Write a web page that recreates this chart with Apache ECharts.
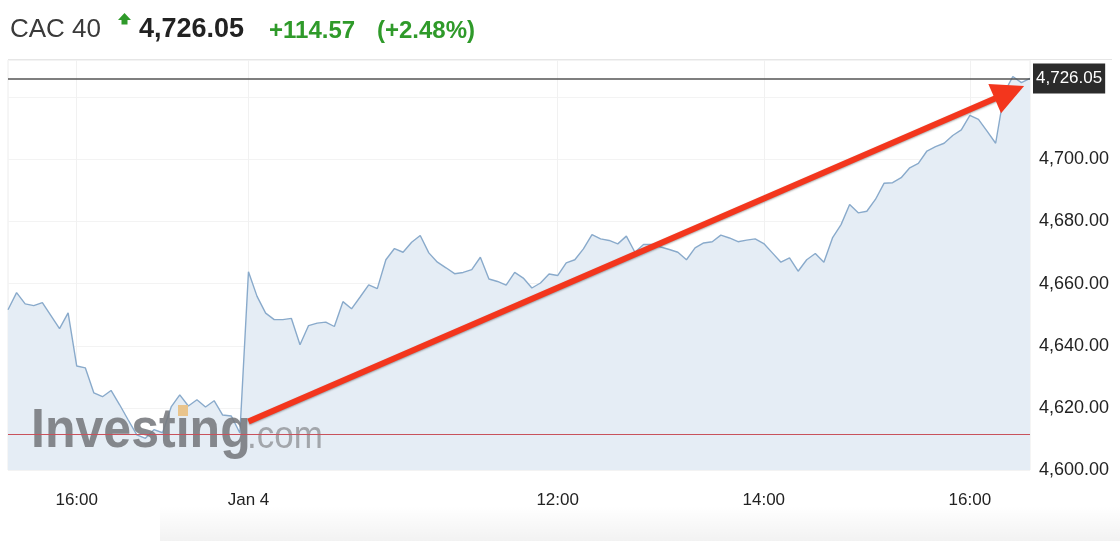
<!DOCTYPE html>
<html>
<head>
<meta charset="utf-8">
<script src="https://cdn.jsdelivr.net/npm/echarts@6/dist/echarts.min.js"></script>
<style>
html,body{margin:0;padding:0;background:#fff;}
#chart{width:1120px;height:541px;}
</style>
</head>
<body>
<div id="chart"></div>
<script>
// ---- header text ----
const indexName = 'CAC 40';
const lastPrice = 4726.05;
const prevClose = 4611.48;
const changeText = '+114.57';
const changePctText = '(+2.48%)';

// ---- session times (5-minute bars) ----
const prevDayLabel = 'Jan 3';
const prevDayStart = '15:20', prevDayEnd = '17:35';
const curDayLabel = 'Jan 4';
const curDayStart = '09:00', curDayEnd = '16:35';

// ---- values ----
const prevDayValues = [
  4651.6, 4657.1, 4653.5, 4652.9, 4653.9, 4649.7, 4645.5, 4650.6,
  4633.5, 4632.9, 4624.8, 4623.6, 4625.6, 4621.0, 4616.1, 4611.3,
  4610.2, 4613.0, 4612.0, 4620.3, 4624.2, 4620.6, 4622.6, 4620.3,
  4622.3, 4617.7, 4617.4, 4611.9
];
const curDayValues = [
  4663.8, 4655.9, 4650.5, 4648.4, 4648.4, 4648.8, 4640.3, 4646.5,
  4647.3, 4647.6, 4646.2, 4654.2, 4651.9, 4655.7, 4659.6, 4658.4,
  4667.7, 4671.3, 4670.1, 4673.3, 4675.5, 4669.9, 4666.9, 4665.1,
  4663.2, 4663.6, 4664.5, 4668.5, 4661.5, 4660.7, 4659.5, 4663.6,
  4661.8, 4658.6, 4660.2, 4663.1, 4662.6, 4666.7, 4667.7, 4671.2,
  4675.8, 4674.4, 4673.9, 4672.8, 4675.3, 4670.1, 4672.6, 4672.6,
  4671.8, 4671.0, 4670.1, 4667.7, 4671.5, 4673.1, 4673.5, 4675.6,
  4674.7, 4673.5, 4674.0, 4674.4, 4672.9, 4669.9, 4666.9, 4668.3,
  4664.0, 4667.7, 4669.7, 4666.9, 4674.7, 4679.0, 4685.5, 4682.8,
  4683.3, 4687.1, 4692.3, 4692.5, 4694.1, 4697.3, 4698.7, 4702.7,
  4704.1, 4705.2, 4707.7, 4709.5, 4714.2, 4712.9, 4709.1, 4705.2,
  4721.5, 4726.7, 4724.7, 4726.05
];

// ---- axis ticks ----
const xTickCategories = ['Jan 3 16:00', 'Jan 4 09:00', 'Jan 4 12:00', 'Jan 4 14:00', 'Jan 4 16:00'];
const xTickLabels = ['16:00', 'Jan 4', '12:00', '14:00', '16:00'];
const yMin = 4600, yMax = 4732, yInterval = 20, yLabelMax = 4700;

// ---- annotation arrow (data coordinates: [bar index, value]) ----
const arrowStart = [28, 4615.6];
const arrowEnd = [116.6, 4721.6];

function toMin(t){ const p = t.split(':'); return (+p[0])*60 + (+p[1]); }
function fmtT(m){ const h = Math.floor(m/60), mm = m%60; return (h<10?'0':'')+h+':'+(mm<10?'0':'')+mm; }
function sessionCats(day, s, e){ const out=[]; for(let m=toMin(s); m<=toMin(e); m+=5) out.push(day+' '+fmtT(m)); return out; }

const categories = sessionCats(prevDayLabel, prevDayStart, prevDayEnd).concat(sessionCats(curDayLabel, curDayStart, curDayEnd));
const values = prevDayValues.concat(curDayValues);
const tickIdx = xTickCategories.map(c => categories.indexOf(c));

const fmtNum = v => v.toLocaleString('en-US', {minimumFractionDigits: 2, maximumFractionDigits: 2});
const FONT = '"Liberation Sans", Arial, Helvetica, sans-serif';
const GREEN = '#2f9a2a';
const RED = '#f3361d';

const chart = echarts.init(document.getElementById('chart'), null, {renderer: 'canvas'});
chart.setOption({
  animation: false,
  backgroundColor: '#ffffff',
  textStyle: {fontFamily: FONT},
  grid: {left: 8, right: 90, top: 60, bottom: 71, show: true, borderColor: '#ececec', borderWidth: 1, backgroundColor: 'transparent'},
  xAxis: [{
    type: 'category',
    data: categories,
    boundaryGap: false,
    axisLine: {show: false},
    axisTick: {show: false},
    axisLabel: {
      interval: (i) => tickIdx.indexOf(i) >= 0,
      formatter: (val, i) => { const k = xTickCategories.indexOf(val); return k >= 0 ? xTickLabels[k] : ''; },
      color: '#222', fontSize: 17, margin: 22, fontFamily: FONT
    },
    splitLine: {show: true, interval: (i) => tickIdx.indexOf(i) >= 0, lineStyle: {color: '#f1f1f1', width: 1}}
  }, {
    type: 'value', min: 0, max: categories.length - 1, show: false
  }],
  yAxis: [{
    type: 'value', position: 'right',
    min: yMin, max: yMax, interval: yInterval,
    axisLine: {show: false}, axisTick: {show: false},
    axisLabel: {
      formatter: v => v > yLabelMax + 0.5 ? '' : fmtNum(v),
      color: '#222', fontSize: 18, margin: 9, fontFamily: FONT
    },
    splitLine: {show: true, lineStyle: {color: '#f3f3f3', width: 1}}
  }],
  series: [{
    type: 'line',
    data: values,
    symbol: 'none',
    silent: true,
    lineStyle: {color: '#89aacb', width: 1.4},
    areaStyle: {color: '#e5edf5', opacity: 1},
    markLine: {
      silent: true, symbol: ['none', 'none'], animation: false,
      data: [
        {yAxis: prevClose, lineStyle: {color: '#c8525c', width: 1.2, type: 'solid'}, label: {show: false}},
        {yAxis: lastPrice, lineStyle: {color: '#555555', width: 1.5, type: 'solid'},
         label: {show: true, position: 'end', distance: 3, formatter: fmtNum(lastPrice),
                 color: '#ffffff', backgroundColor: '#2b2b2b', fontSize: 17, fontFamily: FONT,
                 padding: [7, 3, 6, 3], borderRadius: 0}}
      ]
    }
  }, {
    type: 'line',
    xAxisIndex: 1, yAxisIndex: 0,
    data: [],
    symbol: 'none',
    silent: true,
    z: 20,
    markLine: {
      silent: true, animation: false,
      symbol: ['none', 'triangle'],
      symbolSize: 32,
      lineStyle: {color: RED, width: 6, type: 'solid', shadowBlur: 2, shadowColor: 'rgba(0,0,0,0.35)', shadowOffsetY: 1},
      itemStyle: {color: RED},
      label: {show: false},
      data: [[{coord: arrowStart}, {coord: arrowEnd}]]
    }
  }],
  graphic: [
    // header
    {type: 'text', x: 10, y: 30, style: {text: indexName, font: '26px ' + FONT, fill: '#3a3a3a', verticalAlign: 'middle'}},
    {type: 'polygon', shape: {points: [[124.5, 13], [131, 20], [127.5, 20], [127.5, 24.5], [121.5, 24.5], [121.5, 20], [118, 20]]}, style: {fill: GREEN}},
    {type: 'text', x: 139, y: 30, style: {text: fmtNum(lastPrice), font: 'bold 27px ' + FONT, fill: '#222', verticalAlign: 'middle'}},
    {type: 'text', x: 269, y: 31, style: {text: changeText, font: 'bold 24px ' + FONT, fill: GREEN, verticalAlign: 'middle'}},
    {type: 'text', x: 377, y: 31, style: {text: changePctText, font: 'bold 24px ' + FONT, fill: GREEN, verticalAlign: 'middle'}},
    {type: 'line', shape: {x1: 8, y1: 59.5, x2: 1112, y2: 59.5}, style: {stroke: '#e6e6e6', lineWidth: 1}},
    // watermark
    {type: 'text', x: 31, y: 432, scaleX: 0.91, z: 4, style: {text: 'Investing', font: 'bold 55px ' + FONT, fill: 'rgba(118,121,125,0.88)', verticalAlign: 'middle'}},
    {type: 'rect', z: 5, shape: {x: 178, y: 405, width: 10, height: 11}, style: {fill: '#e9c48c'}},
    {type: 'text', x: 247, y: 438, scaleX: 0.92, z: 4, style: {text: '.com', font: '38px ' + FONT, fill: 'rgba(150,153,157,0.85)', verticalAlign: 'middle'}},
    // bottom soft shadow
    {type: 'rect', z: -1, shape: {x: 160, y: 506, width: 960, height: 35},
     style: {fill: new echarts.graphic.LinearGradient(0, 0, 0, 1, [{offset: 0, color: 'rgba(0,0,0,0)'}, {offset: 1, color: 'rgba(0,0,0,0.05)'}])}}
  ]
});
</script>
</body>
</html>
